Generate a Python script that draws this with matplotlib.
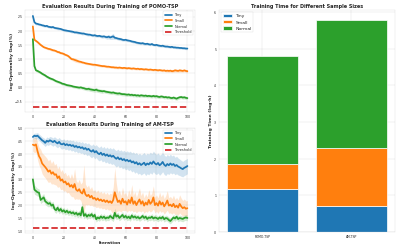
import numpy as np
import matplotlib
matplotlib.use("Agg")
import matplotlib.pyplot as plt
import seaborn as sns

sns.set_style("whitegrid")
plt.rcParams['font.family'] = ['DejaVu Sans']

# ---- POMO-TSP evaluation curves (log-optimality gap, %) ----
pomo_tiny = [2.52, 2.30, 2.25, 2.24, 2.22, 2.21, 2.19, 2.18, 2.16, 2.17,
             2.14, 2.13, 2.12, 2.13, 2.10, 2.09, 2.08, 2.07, 2.06, 2.04,
             2.02, 2.01, 2.00, 1.99, 1.98, 1.97, 1.96, 1.94, 1.94, 1.93,
             1.92, 1.91, 1.90, 1.90, 1.88, 1.87, 1.86, 1.86, 1.84, 1.83,
             1.84, 1.82, 1.81, 1.82, 1.80, 1.79, 1.80, 1.78, 1.77, 1.79,
             1.76, 1.78, 1.80, 1.75, 1.74, 1.72, 1.71, 1.70, 1.68, 1.67,
             1.68, 1.66, 1.65, 1.64, 1.62, 1.61, 1.60, 1.58, 1.57, 1.56,
             1.55, 1.56, 1.54, 1.53, 1.54, 1.52, 1.51, 1.53, 1.50, 1.49,
             1.50, 1.48, 1.47, 1.46, 1.47, 1.45, 1.44, 1.44, 1.43, 1.42,
             1.43, 1.41, 1.41, 1.40, 1.40, 1.39, 1.39, 1.38, 1.38, 1.37, 1.37]
pomo_small = [2.15, 1.68, 1.64, 1.60, 1.55, 1.50, 1.46, 1.42, 1.40, 1.38,
              1.36, 1.35, 1.33, 1.31, 1.30, 1.28, 1.25, 1.24, 1.21, 1.20,
              1.18, 1.15, 1.13, 1.10, 1.05, 1.00, 0.99, 0.97, 0.95, 0.93,
              0.91, 0.90, 0.88, 0.87, 0.85, 0.84, 0.83, 0.82, 0.81, 0.80,
              0.80, 0.79, 0.78, 0.77, 0.76, 0.75, 0.75, 0.74, 0.73, 0.73,
              0.72, 0.71, 0.71, 0.70, 0.70, 0.69, 0.70, 0.69, 0.68, 0.69,
              0.68, 0.67, 0.68, 0.67, 0.66, 0.67, 0.66, 0.65, 0.66, 0.64,
              0.65, 0.64, 0.63, 0.64, 0.63, 0.62, 0.63, 0.62, 0.61, 0.62,
              0.61, 0.60, 0.61, 0.60, 0.59, 0.60, 0.58, 0.59, 0.58, 0.59,
              0.57, 0.58, 0.60, 0.59, 0.58, 0.60, 0.59, 0.58, 0.60, 0.58, 0.57]
pomo_normal = [1.70, 0.75, 0.60, 0.58, 0.55, 0.52, 0.48, 0.45, 0.42, 0.38,
               0.35, 0.32, 0.30, 0.28, 0.25, 0.22, 0.20, 0.18, 0.16, 0.13,
               0.12, 0.10, 0.08, 0.07, 0.06, 0.05, 0.03, 0.02, 0.01, 0.00,
               -0.01, 0.00, -0.02, -0.03, -0.05, -0.06, -0.05, -0.07, -0.08, -0.09,
               -0.10, -0.08, -0.11, -0.12, -0.13, -0.14, -0.13, -0.15, -0.16, -0.17,
               -0.18, -0.19, -0.18, -0.20, -0.21, -0.22, -0.21, -0.23, -0.24, -0.24,
               -0.25, -0.26, -0.25, -0.27, -0.26, -0.28, -0.27, -0.29, -0.28, -0.30,
               -0.28, -0.29, -0.30, -0.29, -0.31, -0.30, -0.31, -0.32, -0.30, -0.32,
               -0.31, -0.33, -0.34, -0.32, -0.33, -0.35, -0.34, -0.36, -0.35, -0.37,
               -0.38, -0.36, -0.38, -0.40, -0.37, -0.35, -0.34, -0.36, -0.35, -0.37, -0.38]
pomo_tiny_sd = [0.06, 0.05, 0.05, 0.04, 0.04, 0.04, 0.04, 0.05, 0.04, 0.05,
                0.04, 0.04, 0.05, 0.04, 0.04, 0.04, 0.05, 0.04, 0.04, 0.04,
                0.04, 0.05, 0.04, 0.04, 0.04, 0.05, 0.04, 0.04, 0.04, 0.05,
                0.05, 0.04, 0.05, 0.04, 0.04, 0.05, 0.05, 0.04, 0.05, 0.04,
                0.05, 0.05, 0.04, 0.05, 0.05, 0.06, 0.05, 0.06, 0.07, 0.08,
                0.07, 0.09, 0.10, 0.06, 0.05, 0.05, 0.06, 0.05, 0.05, 0.04,
                0.05, 0.05, 0.04, 0.05, 0.04, 0.05, 0.05, 0.04, 0.05, 0.05,
                0.04, 0.05, 0.05, 0.04, 0.05, 0.04, 0.04, 0.05, 0.04, 0.04,
                0.04, 0.05, 0.04, 0.04, 0.05, 0.04, 0.04, 0.04, 0.04, 0.05,
                0.04, 0.04, 0.04, 0.04, 0.04, 0.04, 0.04, 0.04, 0.04, 0.04, 0.04]
pomo_small_sd = [0.05, 0.04, 0.04, 0.04, 0.04, 0.04, 0.04, 0.04, 0.04, 0.04,
                 0.04, 0.04, 0.05, 0.04, 0.04, 0.04, 0.04, 0.05, 0.04, 0.04,
                 0.05, 0.04, 0.04, 0.05, 0.05, 0.05, 0.06, 0.07, 0.07, 0.06,
                 0.05, 0.05, 0.04, 0.04, 0.04, 0.04, 0.04, 0.04, 0.04, 0.04,
                 0.04, 0.04, 0.04, 0.04, 0.04, 0.04, 0.04, 0.04, 0.04, 0.04,
                 0.04, 0.04, 0.04, 0.04, 0.04, 0.04, 0.04, 0.04, 0.04, 0.04,
                 0.04, 0.04, 0.04, 0.04, 0.04, 0.04, 0.04, 0.04, 0.04, 0.04,
                 0.04, 0.04, 0.04, 0.04, 0.04, 0.04, 0.04, 0.04, 0.04, 0.04,
                 0.04, 0.04, 0.04, 0.04, 0.04, 0.04, 0.04, 0.05, 0.05, 0.05,
                 0.05, 0.05, 0.06, 0.05, 0.05, 0.06, 0.05, 0.05, 0.05, 0.05, 0.05]
pomo_normal_sd = [0.06, 0.05, 0.05, 0.05, 0.05, 0.05, 0.05, 0.05, 0.05, 0.05,
                  0.05, 0.05, 0.05, 0.05, 0.05, 0.05, 0.05, 0.05, 0.05, 0.05,
                  0.05, 0.05, 0.05, 0.05, 0.05, 0.05, 0.05, 0.05, 0.05, 0.05,
                  0.05, 0.05, 0.06, 0.06, 0.06, 0.06, 0.07, 0.07, 0.07, 0.07,
                  0.07, 0.08, 0.07, 0.07, 0.07, 0.07, 0.06, 0.06, 0.06, 0.06,
                  0.06, 0.06, 0.06, 0.06, 0.06, 0.06, 0.06, 0.06, 0.06, 0.06,
                  0.06, 0.06, 0.06, 0.06, 0.06, 0.06, 0.06, 0.06, 0.06, 0.06,
                  0.06, 0.06, 0.06, 0.06, 0.06, 0.06, 0.06, 0.06, 0.06, 0.06,
                  0.06, 0.06, 0.06, 0.06, 0.06, 0.06, 0.06, 0.06, 0.06, 0.06,
                  0.06, 0.06, 0.06, 0.06, 0.06, 0.06, 0.06, 0.06, 0.06, 0.06, 0.06]
pomo_threshold = -0.7

# ---- AM-TSP evaluation curves ----
am_tiny = [4.65, 4.70, 4.68, 4.70, 4.64, 4.58, 4.52, 4.48, 4.42, 4.50,
           4.47, 4.52, 4.49, 4.45, 4.50, 4.44, 4.40, 4.46, 4.38, 4.36,
           4.40, 4.33, 4.37, 4.32, 4.35, 4.30, 4.33, 4.26, 4.30, 4.24,
           4.27, 4.22, 4.25, 4.18, 4.22, 4.15, 4.19, 4.12, 4.08, 4.14,
           4.05, 4.10, 4.02, 3.98, 4.04, 3.95, 4.00, 3.92, 3.97, 3.90,
           3.94, 3.88, 3.92, 3.85, 3.80, 3.86, 3.78, 3.82, 3.75, 3.79,
           3.72, 3.76, 3.70, 3.74, 3.66, 3.70, 3.62, 3.67, 3.58, 3.63,
           3.56, 3.60, 3.65, 3.55, 3.62, 3.58, 3.66, 3.60, 3.70, 3.62,
           3.58, 3.64, 3.55, 3.60, 3.68, 3.57, 3.52, 3.60, 3.55, 3.62,
           3.56, 3.60, 3.52, 3.56, 3.50, 3.47, 3.43, 3.40, 3.45, 3.48, 3.52]
am_small = [4.35, 4.32, 4.36, 4.10, 3.90, 3.80, 3.62, 3.55, 3.48, 3.40,
            3.30, 3.35, 3.22, 3.28, 3.18, 3.20, 3.05, 3.12, 2.95, 3.00,
            2.88, 2.92, 2.80, 2.85, 2.72, 2.78, 2.68, 2.82, 2.60, 2.55,
            2.62, 2.50, 2.45, 2.62, 2.42, 2.35, 2.40, 2.30, 2.36, 2.25,
            2.28, 2.20, 2.26, 2.18, 2.22, 2.15, 2.20, 2.12, 2.18, 2.10,
            2.15, 2.08, 2.20, 2.50, 2.30, 2.12, 2.18, 2.05, 2.25, 2.10,
            2.15, 2.02, 2.20, 2.08, 2.30, 2.05, 2.15, 2.00, 2.12, 2.22,
            2.05, 2.15, 1.98, 2.10, 2.02, 2.20, 2.05, 2.12, 2.30, 2.00,
            2.08, 1.98, 2.15, 2.02, 2.10, 1.95, 2.05, 2.18, 1.98, 2.02,
            1.95, 2.05, 1.92, 1.98, 1.90, 2.05, 1.95, 1.88, 1.92, 1.86, 1.88]
am_normal = [3.00, 2.60, 2.55, 2.50, 2.48, 2.20, 2.25, 2.30, 2.15, 2.10,
             2.05, 2.08, 1.98, 2.02, 1.85, 1.80, 1.90, 1.78, 1.85, 1.75,
             1.80, 1.72, 1.78, 1.70, 1.74, 1.68, 1.72, 1.65, 1.70, 1.62,
             1.68, 1.60, 1.92, 1.58, 1.65, 1.55, 1.62, 1.58, 1.65, 1.55,
             1.62, 1.45, 1.52, 1.48, 1.56, 1.50, 1.55, 1.48, 1.52, 1.50,
             1.58, 1.52, 1.48, 1.70, 1.55, 1.60, 1.50, 1.56, 1.62, 1.52,
             1.58, 1.50, 1.55, 1.48, 1.60, 1.52, 1.56, 1.50, 1.54, 1.48,
             1.52, 1.58, 1.50, 1.55, 1.46, 1.52, 1.50, 1.55, 1.48, 1.52,
             1.50, 1.46, 1.52, 1.48, 1.54, 1.45, 1.50, 1.48, 1.42, 1.38,
             1.45, 1.52, 1.48, 1.55, 1.46, 1.50, 1.48, 1.46, 1.50, 1.52, 1.50]
am_tiny_sd = [0.10, 0.10, 0.12, 0.12, 0.12, 0.13, 0.13, 0.14, 0.14, 0.15,
              0.15, 0.15, 0.16, 0.16, 0.16, 0.17, 0.17, 0.17, 0.18, 0.18,
              0.18, 0.18, 0.19, 0.19, 0.19, 0.20, 0.20, 0.20, 0.20, 0.21,
              0.21, 0.21, 0.22, 0.22, 0.22, 0.23, 0.23, 0.23, 0.24, 0.24,
              0.25, 0.25, 0.26, 0.26, 0.27, 0.27, 0.28, 0.28, 0.29, 0.29,
              0.30, 0.30, 0.31, 0.31, 0.32, 0.32, 0.33, 0.33, 0.34, 0.34,
              0.35, 0.35, 0.36, 0.36, 0.37, 0.37, 0.38, 0.38, 0.38, 0.39,
              0.39, 0.39, 0.40, 0.40, 0.40, 0.40, 0.40, 0.40, 0.40, 0.40,
              0.39, 0.39, 0.39, 0.38, 0.38, 0.38, 0.37, 0.37, 0.36, 0.36,
              0.35, 0.35, 0.34, 0.34, 0.33, 0.32, 0.31, 0.30, 0.30, 0.30, 0.30]
am_small_sd = [0.25, 0.28, 0.30, 0.33, 0.35, 0.38, 0.40, 0.42, 0.42, 0.43,
               0.42, 0.44, 0.40, 0.45, 0.38, 0.42, 0.36, 0.40, 0.35, 0.38,
               0.34, 0.36, 0.33, 0.35, 0.32, 0.45, 0.35, 0.60, 0.35, 0.32,
               0.38, 0.32, 0.45, 0.95, 0.40, 0.35, 0.38, 0.32, 0.36, 0.30,
               0.32, 0.30, 0.33, 0.30, 0.32, 0.30, 0.32, 0.30, 0.32, 0.30,
               0.32, 0.35, 0.50, 0.95, 0.55, 0.35, 0.40, 0.32, 0.45, 0.32,
               0.35, 0.30, 0.40, 0.32, 0.50, 0.32, 0.38, 0.30, 0.36, 0.45,
               0.32, 0.36, 0.30, 0.34, 0.30, 0.40, 0.32, 0.35, 0.45, 0.30,
               0.32, 0.30, 0.36, 0.30, 0.34, 0.30, 0.32, 0.38, 0.30, 0.32,
               0.30, 0.34, 0.30, 0.32, 0.30, 0.35, 0.32, 0.30, 0.32, 0.30, 0.30]
am_normal_sd = [0.20, 0.18, 0.16, 0.15, 0.15, 0.14, 0.14, 0.15, 0.13, 0.13,
                0.12, 0.13, 0.12, 0.13, 0.12, 0.12, 0.13, 0.12, 0.12, 0.11,
                0.12, 0.11, 0.12, 0.11, 0.11, 0.11, 0.12, 0.11, 0.12, 0.11,
                0.12, 0.11, 0.20, 0.12, 0.12, 0.11, 0.12, 0.11, 0.12, 0.11,
                0.12, 0.11, 0.11, 0.11, 0.12, 0.11, 0.12, 0.11, 0.11, 0.11,
                0.12, 0.11, 0.12, 0.18, 0.12, 0.13, 0.11, 0.12, 0.13, 0.11,
                0.12, 0.11, 0.12, 0.11, 0.12, 0.11, 0.12, 0.11, 0.11, 0.11,
                0.11, 0.12, 0.11, 0.11, 0.11, 0.11, 0.11, 0.12, 0.11, 0.11,
                0.11, 0.11, 0.11, 0.11, 0.11, 0.11, 0.11, 0.11, 0.11, 0.11,
                0.11, 0.11, 0.11, 0.11, 0.11, 0.11, 0.11, 0.11, 0.11, 0.11, 0.11]
am_threshold = 1.1

# ---- training time (log-h), stacked ----
models = ['POMO-TSP', 'AM-TSP']
time_tiny = [1.18, 0.71]
time_small = [0.68, 1.59]
time_normal = [2.93, 3.48]

colors = ['#1f77b4', '#ff7f0e', '#2ca02c']
labels = ['Tiny', 'Small', 'Normal']


def plot_curves(ax, series, sds, threshold, title):
    x = np.arange(len(series[0]))
    for y, sd, c, lab in zip(series, sds, colors, labels):
        y = np.array(y)
        sd = np.array(sd)
        ax.plot(x, y, color=c, lw=5, label=lab)
        ax.fill_between(x, y - sd, y + sd, color=c, alpha=0.2, lw=0)
    ax.plot([x[0], x[-1]], [threshold, threshold], color='#d62728', lw=5,
            ls='--', label='Threshold')
    ax.set_title(title, fontsize=14.5, fontweight='bold')
    ax.set_ylabel('log-Optimality Gap(%)', fontsize=13, fontweight='bold')
    ax.tick_params(labelsize=9)
    ax.legend(loc='upper right', fontsize=10, frameon=True)


fig = plt.figure(figsize=(16, 10))
ax1 = fig.add_axes([0.063, 0.55, 0.426, 0.41])
ax2 = fig.add_axes([0.063, 0.064, 0.426, 0.422])
ax3 = fig.add_axes([0.548, 0.068, 0.442, 0.892])

plot_curves(ax1, [pomo_tiny, pomo_small, pomo_normal],
            [pomo_tiny_sd, pomo_small_sd, pomo_normal_sd], pomo_threshold,
            'Evaluation Results During Training of POMO-TSP')
plot_curves(ax2, [am_tiny, am_small, am_normal],
            [am_tiny_sd, am_small_sd, am_normal_sd], am_threshold,
            'Evaluation Results During Training of AM-TSP')
ax2.set_xlabel('Iteration', fontsize=13, fontweight='bold')

bottom = np.zeros(len(models))
for vals, c, lab in zip([time_tiny, time_small, time_normal], colors, labels):
    ax3.bar(models, vals, bottom=bottom, color=c, label=lab, width=0.8,
            edgecolor='white', linewidth=2)
    bottom += np.array(vals)
ax3.set_title('Training Time for Different Sample Sizes', fontsize=14, fontweight='bold')
ax3.set_ylabel('Training Time (log-h)', fontsize=13, fontweight='bold')
ax3.tick_params(labelsize=9)
ax3.legend(loc='upper left', fontsize=13, frameon=True)

fig.savefig('out.png', dpi=399 / 16)
